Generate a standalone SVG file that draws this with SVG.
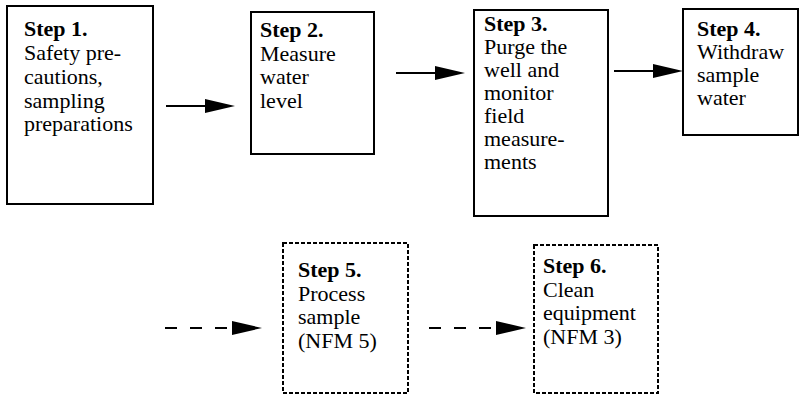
<svg xmlns="http://www.w3.org/2000/svg" width="800" height="395" viewBox="0 0 800 395">
<defs>
  <marker id="ah" viewBox="0 0 30 14" refX="0" refY="7" markerWidth="30" markerHeight="14" markerUnits="userSpaceOnUse" orient="auto">
    <path d="M0,0 L30,7 L0,14 Z" fill="#000"/>
  </marker>
</defs>
<rect width="800" height="395" fill="#fff"/>
<g id="connectors" stroke="#000" stroke-width="2" fill="none">
  <line x1="166" y1="106" x2="205" y2="106" marker-end="url(#ah)"/>
  <line x1="396" y1="73" x2="435" y2="73" marker-end="url(#ah)"/>
  <line x1="614" y1="71" x2="653" y2="71" marker-end="url(#ah)"/>
  <line x1="165" y1="328" x2="232" y2="328" stroke-dasharray="12 13" marker-end="url(#ah)"/>
  <line x1="429" y1="328" x2="496" y2="328" stroke-dasharray="12 13" marker-end="url(#ah)"/>
</g>
<g id="step1">
  <rect x="7" y="6" width="146" height="198" fill="#fff" stroke="#000" stroke-width="2"/>
  <text x="24" y="36" font-family="Liberation Serif" font-size="22" font-weight="bold">Step 1.</text>
  <text x="24" y="60" font-family="Liberation Serif" font-size="22">Safety pre-</text>
  <text x="24" y="84" font-family="Liberation Serif" font-size="22">cautions,</text>
  <text x="24" y="108" font-family="Liberation Serif" font-size="22">sampling</text>
  <text x="24" y="131" font-family="Liberation Serif" font-size="22">preparations</text>
</g>
<g id="step2">
  <rect x="251" y="12" width="123" height="142" fill="#fff" stroke="#000" stroke-width="2"/>
  <text x="260" y="37" font-family="Liberation Serif" font-size="22" font-weight="bold">Step 2.</text>
  <text x="260" y="61" font-family="Liberation Serif" font-size="22">Measure</text>
  <text x="260" y="84" font-family="Liberation Serif" font-size="22">water</text>
  <text x="260" y="108" font-family="Liberation Serif" font-size="22">level</text>
</g>
<g id="step3">
  <rect x="474" y="10" width="134" height="206" fill="#fff" stroke="#000" stroke-width="2"/>
  <text x="484" y="31" font-family="Liberation Serif" font-size="22" font-weight="bold">Step 3.</text>
  <text x="484" y="54" font-family="Liberation Serif" font-size="22">Purge the</text>
  <text x="484" y="77" font-family="Liberation Serif" font-size="22">well and</text>
  <text x="484" y="100" font-family="Liberation Serif" font-size="22">monitor</text>
  <text x="484" y="123" font-family="Liberation Serif" font-size="22">field</text>
  <text x="484" y="146" font-family="Liberation Serif" font-size="22">measure-</text>
  <text x="484" y="169" font-family="Liberation Serif" font-size="22">ments</text>
</g>
<g id="step4">
  <rect x="683" y="9" width="115" height="126" fill="#fff" stroke="#000" stroke-width="2"/>
  <text x="697" y="36" font-family="Liberation Serif" font-size="22" font-weight="bold">Step 4.</text>
  <text x="697" y="59" font-family="Liberation Serif" font-size="22">Withdraw</text>
  <text x="697" y="82" font-family="Liberation Serif" font-size="22">sample</text>
  <text x="697" y="105" font-family="Liberation Serif" font-size="22">water</text>
</g>
<g id="step5">
  <rect x="283" y="243" width="125" height="150" fill="#fff" stroke="#000" stroke-width="2" stroke-dasharray="4 2"/>
  <text x="298" y="277" font-family="Liberation Serif" font-size="22" font-weight="bold">Step 5.</text>
  <text x="298" y="300.5" font-family="Liberation Serif" font-size="22">Process</text>
  <text x="298" y="324" font-family="Liberation Serif" font-size="22">sample</text>
  <text x="298" y="347.5" font-family="Liberation Serif" font-size="22">(NFM 5)</text>
</g>
<g id="step6">
  <rect x="534" y="245" width="124" height="148" fill="#fff" stroke="#000" stroke-width="2" stroke-dasharray="4 2"/>
  <text x="543" y="273" font-family="Liberation Serif" font-size="22" font-weight="bold">Step 6.</text>
  <text x="543" y="297" font-family="Liberation Serif" font-size="22">Clean</text>
  <text x="543" y="320" font-family="Liberation Serif" font-size="22">equipment</text>
  <text x="543" y="344" font-family="Liberation Serif" font-size="22">(NFM 3)</text>
</g>
</svg>
